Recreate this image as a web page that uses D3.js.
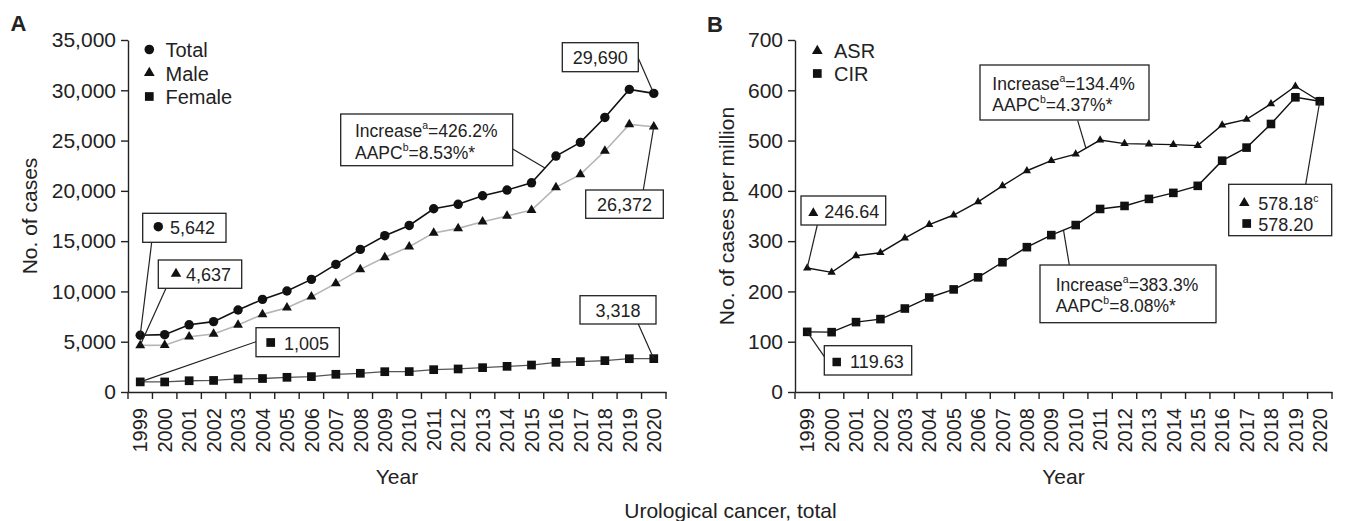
<!DOCTYPE html>
<html><head><meta charset="utf-8">
<script src="https://cdn.jsdelivr.net/npm/d3@7"></script>
<style>
body{margin:0;background:#fff;}
text{font-family:"Liberation Sans",Arial,Helvetica,sans-serif;fill:#222;}
</style></head>
<body><svg id="chart" width="1345" height="521"></svg>
<script>
const years = ["1999","2000","2001","2002","2003","2004","2005","2006","2007","2008","2009","2010","2011","2012","2013","2014","2015","2016","2017","2018","2019","2020"];
const total = [5642,5700,6680,7000,8150,9210,10040,11200,12690,14180,15540,16560,18220,18660,19510,20080,20800,23460,24820,27300,30090,29690];
const male = [4637,4650,5500,5770,6660,7720,8380,9470,10800,12190,13390,14440,15820,16270,16930,17500,18090,20350,21640,23960,26610,26372];
const female = [1005,1000,1120,1150,1300,1340,1460,1530,1760,1860,2020,2030,2220,2290,2420,2550,2680,2950,3020,3120,3310,3318];
const asr = [246.64,238,271,277,306,333,352,378,410,440,460,473,501,494,493,492,490,531,542,573,608,578.18];
const cir = [119.63,119,139,145,166,188,204,228,258,288,312,332,364,370,384,396,410,460,486,533,586,578.20];
const ticksA = [0,5000,10000,15000,20000,25000,30000,35000];
const ticksB = [0,100,200,300,400,500,600,700];

const svg = d3.select("#chart");
const plotTop = 40, plotBottom = 392;

function panel(x0, x1, yMax, yTicks, yFmt){
  const x = d3.scaleBand().domain(years).range([x0, x1]).paddingInner(0).paddingOuter(0);
  const y = d3.scaleLinear().domain([0, yMax]).range([plotBottom, plotTop]);
  const g = svg.append("g");
  const ya = g.append("g").attr("transform", `translate(${x0},0)`)
    .call(d3.axisLeft(y).tickValues(yTicks).tickFormat(yFmt).tickSize(7).tickPadding(5).tickSizeOuter(0));
  ya.selectAll("text").style("font-size","21px").attr("fill","#222");
  ya.selectAll("line,path").attr("stroke","#222").attr("stroke-width",1.4);
  const xa = g.append("g").attr("transform", `translate(0,${plotBottom})`)
    .call(d3.axisBottom(x).tickSize(0).tickSizeOuter(0));
  xa.select("path").attr("stroke","#222").attr("stroke-width",1.4);
  xa.selectAll("text").style("font-size","20px").attr("fill","#222")
    .attr("transform","rotate(-90)").attr("text-anchor","end")
    .attr("x",-16).attr("y",0).attr("dy","0.36em");
  const edges = years.map(d => x(d)).concat([x1]);
  g.append("g").selectAll("line").data(edges).join("line")
    .attr("x1", d=>d).attr("x2", d=>d).attr("y1", plotBottom).attr("y2", plotBottom+7)
    .attr("stroke","#222").attr("stroke-width",1.4);
  return {x, y, g, cx: d => x(d) + x.bandwidth()/2};
}

function series(P, vals, lineColor, lw, symType, size){
  const pts = vals.map((v,i) => [P.cx(years[i]), P.y(v)]);
  P.g.append("path").attr("d", d3.line()(pts)).attr("fill","none")
    .attr("stroke", lineColor).attr("stroke-width", lw);
  P.g.append("g").selectAll("path").data(pts).join("path")
    .attr("transform", d => `translate(${d[0]},${d[1]})`)
    .attr("d", d3.symbol().type(symType).size(size)).attr("fill","#111");
  return pts;
}

function sym(g, type, size, x, y){
  g.append("path").attr("transform",`translate(${x},${y})`)
    .attr("d", d3.symbol().type(type).size(size)).attr("fill","#111");
}
function box(g, x0, y0, x1, y1){
  g.append("rect").attr("x",x0).attr("y",y0).attr("width",x1-x0).attr("height",y1-y0)
    .attr("fill","#fff").attr("stroke","#222").attr("stroke-width",1.3);
}
function leader(g, a, b){
  g.append("line").attr("x1",a[0]).attr("y1",a[1]).attr("x2",b[0]).attr("y2",b[1])
    .attr("stroke","#222").attr("stroke-width",1.2);
}
function txt(g, x, y, s, size, anchor){
  return g.append("text").attr("x",x).attr("y",y).style("font-size",(size||19)+"px")
    .attr("text-anchor", anchor||"start").text(s);
}
function supText(g, x, y, pre, sup, post, size){
  const t = g.append("text").attr("x",x).attr("y",y).style("font-size",size+"px");
  t.append("tspan").text(pre);
  t.append("tspan").text(sup).style("font-size","10.5px").attr("dy",-8);
  if (post) t.append("tspan").text(post).attr("dy",8);
  return t;
}
function lerp(p, q, t){ return [p[0]+(q[0]-p[0])*t, p[1]+(q[1]-p[1])*t]; }

const fmt = d3.format(",");
const NUM = 18, INC = 17.5, LEG = 20;

// ---------- Panel A ----------
const A = panel(128, 666, 35000, ticksA, fmt);
const pM = series(A, male, "#b5b5b5", 1.6, d3.symbolTriangle, 42);
const pF = series(A, female, "#555", 1.3, d3.symbolSquare, 76);
const pT = series(A, total, "#111", 1.6, d3.symbolCircle, 70);

sym(A.g, d3.symbolCircle, 72, 149.3, 49.5); txt(A.g, 165.5, 56.5, "Total", LEG);
sym(A.g, d3.symbolTriangle, 50, 149.3, 73); txt(A.g, 165.5, 80.5, "Male", LEG);
sym(A.g, d3.symbolSquare, 76, 149.3, 96.5); txt(A.g, 165.5, 104, "Female", LEG);

leader(A.g, [151.7, 242.3], pT[0]);
box(A.g, 142.7, 213.3, 226, 242.3);
sym(A.g, d3.symbolCircle, 70, 158.3, 226.7); txt(A.g, 170, 234, "5,642", NUM);

leader(A.g, [166, 288.3], pM[0]);
box(A.g, 158.3, 260, 241.7, 288.3);
sym(A.g, d3.symbolTriangle, 48, 176, 273.8); txt(A.g, 186, 281, "4,637", NUM);

leader(A.g, [256, 341.7], pF[0]);
box(A.g, 256, 327.7, 339.3, 356.7);
sym(A.g, d3.symbolSquare, 76, 270.7, 342.5); txt(A.g, 284, 349.5, "1,005", NUM);

leader(A.g, [638.3, 324], pF[21]);
box(A.g, 580, 295.7, 656, 324);
txt(A.g, 618, 316.5, "3,318", NUM, "middle");

leader(A.g, [638.3, 58.3], pT[21]);
box(A.g, 562.3, 42.7, 638.3, 71.7);
txt(A.g, 600.3, 63.5, "29,690", NUM, "middle");

leader(A.g, [643.3, 190], pM[21]);
box(A.g, 585.7, 190, 663.3, 218.3);
txt(A.g, 624.5, 211, "26,372", NUM, "middle");

leader(A.g, [512.7, 149], lerp(pT[16], pT[17], 0.55));
box(A.g, 340.7, 114, 512.7, 165.7);
supText(A.g, 355, 137, "Increase", "a", "=426.2%", INC);
supText(A.g, 355, 158.5, "AAPC", "b", "=8.53%*", INC);

// ---------- Panel B ----------
const B = panel(795, 1332, 700, ticksB, d3.format("d"));
const pA = series(B, asr, "#111", 1.4, d3.symbolTriangle, 30);
const pC = series(B, cir, "#111", 1.4, d3.symbolSquare, 74);

sym(B.g, d3.symbolTriangle, 50, 817.3, 51); txt(B.g, 834, 57.5, "ASR", LEG);
sym(B.g, d3.symbolSquare, 76, 817.3, 73.5); txt(B.g, 834, 80.5, "CIR", LEG);

leader(B.g, [1077.7, 120.7], lerp(pA[11], pA[12], 0.42));
box(B.g, 980, 65, 1149, 120);
supText(B.g, 992.3, 89.5, "Increase", "a", "=134.4%", INC);
supText(B.g, 992.3, 111, "AAPC", "b", "=4.37%*", INC);

leader(B.g, [817.3, 225], pA[0]);
box(B.g, 801, 196, 885.7, 225);
sym(B.g, d3.symbolTriangle, 44, 813.3, 213); txt(B.g, 824.3, 217.5, "246.64", NUM);

leader(B.g, [824.3, 356.7], pC[0]);
box(B.g, 824.3, 345.7, 911.7, 375);
sym(B.g, d3.symbolSquare, 72, 836.7, 362); txt(B.g, 850, 368, "119.63", NUM);

leader(B.g, [1069.3, 265], lerp(pC[10], pC[11], 0.5));
box(B.g, 1040, 265, 1216, 322.7);
supText(B.g, 1055.7, 291, "Increase", "a", "=383.3%", INC);
supText(B.g, 1055.7, 312, "AAPC", "b", "=8.08%*", INC);

leader(B.g, [1305.7, 184.3], pC[21]);
box(B.g, 1228.7, 184.3, 1331.7, 235.7);
sym(B.g, d3.symbolTriangle, 48, 1244.3, 203);
supText(B.g, 1258.3, 210, "578.18", "c", "", NUM);
sym(B.g, d3.symbolSquare, 76, 1246.7, 223.5); txt(B.g, 1258.3, 230.5, "578.20", NUM);

// ---------- Titles ----------
svg.append("text").attr("x",10.5).attr("y",30.7).style("font-size","22px").style("font-weight","bold").text("A");
svg.append("text").attr("x",707).attr("y",31.7).style("font-size","22px").style("font-weight","bold").text("B");
svg.append("text").attr("transform","translate(37,216) rotate(-90)").attr("text-anchor","middle").style("font-size","21px").text("No. of cases");
svg.append("text").attr("transform","translate(734,216) rotate(-90)").attr("text-anchor","middle").style("font-size","21px").text("No. of cases per million");
svg.append("text").attr("x",397).attr("y",484).attr("text-anchor","middle").style("font-size","21px").text("Year");
svg.append("text").attr("x",1063.5).attr("y",484).attr("text-anchor","middle").style("font-size","21px").text("Year");
svg.append("text").attr("x",730.5).attr("y",518).attr("text-anchor","middle").style("font-size","21px").text("Urological cancer, total");
</script></body></html>
